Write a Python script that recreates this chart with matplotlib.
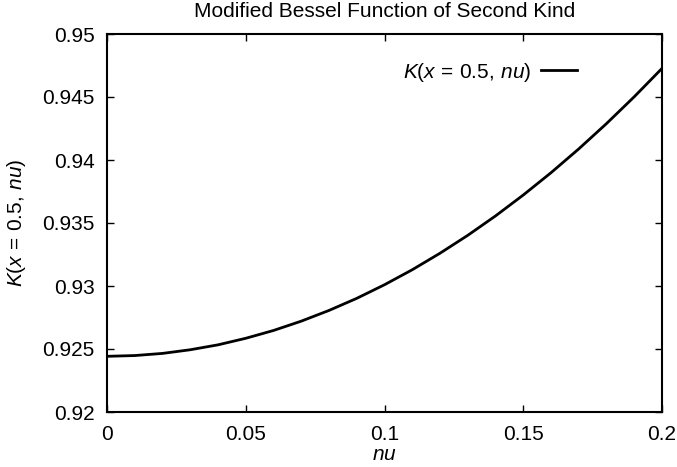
import matplotlib
matplotlib.use("Agg")
import matplotlib.pyplot as plt

plt.rcParams['font.family'] = ['Liberation Sans', 'DejaVu Sans']
plt.rcParams['mathtext.fontset'] = 'custom'
plt.rcParams['mathtext.rm'] = 'Liberation Sans'
plt.rcParams['mathtext.it'] = 'Liberation Sans:italic'

nu = [0.00, 0.01, 0.02, 0.03, 0.04, 0.05, 0.06, 0.07, 0.08, 0.09, 0.10,
      0.11, 0.12, 0.13, 0.14, 0.15, 0.16, 0.17, 0.18, 0.19, 0.20]
k_vals = [0.92442, 0.92448, 0.92465, 0.92494, 0.92533, 0.92585, 0.92647,
          0.92721, 0.92806, 0.92902, 0.93010, 0.93129, 0.93260, 0.93402,
          0.93556, 0.93722, 0.93899, 0.94088, 0.94289, 0.94502, 0.94727]
xticks = [0, 0.05, 0.1, 0.15, 0.2]
xtick_labels = ['0', '0.05', '0.1', '0.15', '0.2']
yticks = [0.92, 0.925, 0.93, 0.935, 0.94, 0.945, 0.95]
ytick_labels = ['0.92', '0.925', '0.93', '0.935', '0.94', '0.945', '0.95']

W, H = 677, 467
fig = plt.figure(figsize=(W / 100, H / 100), dpi=100)
left, right, top, bottom = 107, 662, 34, 412
ax = fig.add_axes([left / W, (H - bottom) / H, (right - left) / W, (bottom - top) / H])
ax.plot(nu, k_vals, color='black', lw=2, solid_joinstyle='round',
        label=r'$K(x\,=\,0.5,\,nu)$')
ax.set_xlim(0, 0.2)
ax.set_ylim(0.92, 0.95)
ax.set_xticks(xticks)
ax.set_xticklabels(xtick_labels)
ax.set_yticks(yticks)
ax.set_yticklabels(ytick_labels)
ax.tick_params(direction='in', length=5, width=1, top=True, right=True,
               labelsize=15)
ax.tick_params(axis='y', pad=9)
ax.tick_params(axis='x', pad=9)
for s in ax.spines.values():
    s.set_linewidth(1.5)
ax.set_xlabel(r'$nu$', fontsize=15, labelpad=1)
ax.set_ylabel(r'$K(x\,=\,0.5,\,nu)$', fontsize=15, labelpad=10)
ax.set_title('Modified Bessel Function of Second Kind', fontsize=15, pad=12)
leg = ax.legend(loc='center right', frameon=False, fontsize=15, markerfirst=False,
                handlelength=1.75, handletextpad=0.45, borderpad=0,
                borderaxespad=0,
                bbox_to_anchor=(577 / W, (H - 72) / H),
                bbox_transform=fig.transFigure)
fig.savefig('out.png', dpi=100)
